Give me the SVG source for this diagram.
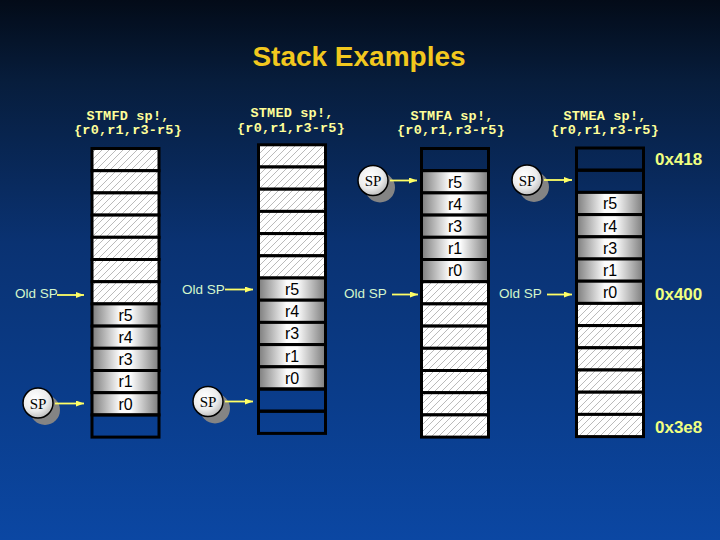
<svg xmlns="http://www.w3.org/2000/svg" width="720" height="540" viewBox="0 0 720 540">
<defs>
<linearGradient id="bg" x1="0" y1="0" x2="0" y2="1">
<stop offset="0" stop-color="#030b18"/>
<stop offset="0.15" stop-color="#071d3c"/>
<stop offset="0.45" stop-color="#0a3272"/>
<stop offset="0.75" stop-color="#0a3d8c"/>
<stop offset="1" stop-color="#0b47a3"/>
</linearGradient>
<linearGradient id="cellg" x1="0" y1="0" x2="1" y2="0">
<stop offset="0" stop-color="#7c7c7c"/>
<stop offset="0.42" stop-color="#fcfcfc"/>
<stop offset="0.58" stop-color="#fcfcfc"/>
<stop offset="1" stop-color="#7c7c7c"/>
</linearGradient>
<radialGradient id="spg" cx="0.4" cy="0.35" r="0.7">
<stop offset="0" stop-color="#ffffff"/>
<stop offset="0.6" stop-color="#ececec"/>
<stop offset="1" stop-color="#b8b8b8"/>
</radialGradient>
<pattern id="hatch" patternUnits="userSpaceOnUse" width="7" height="7">
<rect width="7" height="7" fill="#ffffff"/>
<path d="M0,7 L7,0 M-1,1 L1,-1 M6,8 L8,6" stroke="#9c9c9c" stroke-width="0.7"/>
</pattern>
<marker id="ah" markerWidth="8" markerHeight="6" refX="8" refY="3" orient="auto" markerUnits="userSpaceOnUse">
<path d="M0,0 L8,3 L0,6 Z" fill="#ffff66"/>
</marker>
<style>
.h{fill:url(#hatch);stroke:#000;stroke-width:3}
.g{fill:url(#cellg);stroke:#000;stroke-width:3}
.e{fill:none;stroke:#000;stroke-width:3}
.r{font-family:"Liberation Sans",Arial,sans-serif;font-size:16px;fill:#000;text-anchor:middle}
.hd{font-family:"Liberation Mono","Courier New",monospace;font-weight:bold;font-size:13.5px;fill:#ffff99;text-anchor:middle;letter-spacing:0.2px}
.old{font-family:"Liberation Sans",Arial,sans-serif;font-size:13.5px;fill:#d4f7cc}
.addr{font-family:"Liberation Sans",Arial,sans-serif;font-weight:bold;font-size:17px;fill:#f0ff80}
.sh{fill:#848484}
.sp{fill:url(#spg);stroke:#000;stroke-width:1.5}
.spt{font-family:"Liberation Serif","Times New Roman",serif;font-size:15px;fill:#000;text-anchor:middle}
.ar{stroke:#ffff66;stroke-width:1.8;fill:none;marker-end:url(#ah)}
</style>
</defs>
<rect width="720" height="540" fill="url(#bg)"/>
<text x="359" y="66" font-family="Liberation Sans,Arial,sans-serif" font-weight="bold" font-size="28" fill="#f2c81e" text-anchor="middle">Stack Examples</text>

<g id="headers">
<text class="hd" x="128" y="120">STMFD sp!,</text>
<text class="hd" x="128" y="134">{r0,r1,r3-r5}</text>
<text class="hd" x="292" y="117">STMED sp!,</text>
<text class="hd" x="291" y="131.5">{r0,r1,r3-r5}</text>
<text class="hd" x="452" y="120">STMFA sp!,</text>
<text class="hd" x="451" y="134">{r0,r1,r3-r5}</text>
<text class="hd" x="605" y="120">STMEA sp!,</text>
<text class="hd" x="605" y="134">{r0,r1,r3-r5}</text>
</g>

<g id="stack-stmfd">
<rect class="h" x="92" y="148.5" width="67" height="22.2"/>
<rect class="h" x="92" y="170.7" width="67" height="22.2"/>
<rect class="h" x="92" y="192.9" width="67" height="22.2"/>
<rect class="h" x="92" y="215.1" width="67" height="22.2"/>
<rect class="h" x="92" y="237.3" width="67" height="22.2"/>
<rect class="h" x="92" y="259.5" width="67" height="22.2"/>
<rect class="h" x="92" y="281.7" width="67" height="22.2"/>
<rect class="g" x="92" y="303.9" width="67" height="22.2"/>
<rect class="g" x="92" y="326.1" width="67" height="22.2"/>
<rect class="g" x="92" y="348.3" width="67" height="22.2"/>
<rect class="g" x="92" y="370.5" width="67" height="22.2"/>
<rect class="g" x="92" y="392.7" width="67" height="22.2"/>
<rect class="e" x="92" y="414.9" width="67" height="22.2"/>
<text class="r" x="125.5" y="320.8">r5</text>
<text class="r" x="125.5" y="343">r4</text>
<text class="r" x="125.5" y="365.2">r3</text>
<text class="r" x="125.5" y="387.4">r1</text>
<text class="r" x="125.5" y="409.6">r0</text>
</g>

<g id="stack-stmed">
<rect class="h" x="258.5" y="144.8" width="67" height="22.2"/>
<rect class="h" x="258.5" y="167" width="67" height="22.2"/>
<rect class="h" x="258.5" y="189.2" width="67" height="22.2"/>
<rect class="h" x="258.5" y="211.4" width="67" height="22.2"/>
<rect class="h" x="258.5" y="233.6" width="67" height="22.2"/>
<rect class="h" x="258.5" y="255.8" width="67" height="22.2"/>
<rect class="g" x="258.5" y="278" width="67" height="22.2"/>
<rect class="g" x="258.5" y="300.2" width="67" height="22.2"/>
<rect class="g" x="258.5" y="322.4" width="67" height="22.2"/>
<rect class="g" x="258.5" y="344.6" width="67" height="22.2"/>
<rect class="g" x="258.5" y="366.8" width="67" height="22.2"/>
<rect class="e" x="258.5" y="389" width="67" height="22.2"/>
<rect class="e" x="258.5" y="411.2" width="67" height="22.2"/>
<text class="r" x="292" y="294.9">r5</text>
<text class="r" x="292" y="317.1">r4</text>
<text class="r" x="292" y="339.3">r3</text>
<text class="r" x="292" y="361.5">r1</text>
<text class="r" x="292" y="383.7">r0</text>
</g>

<g id="stack-stmfa">
<rect class="e" x="421.5" y="148.5" width="67" height="22.2"/>
<rect class="g" x="421.5" y="170.7" width="67" height="22.2"/>
<rect class="g" x="421.5" y="192.9" width="67" height="22.2"/>
<rect class="g" x="421.5" y="215.1" width="67" height="22.2"/>
<rect class="g" x="421.5" y="237.3" width="67" height="22.2"/>
<rect class="g" x="421.5" y="259.5" width="67" height="22.2"/>
<rect class="h" x="421.5" y="281.7" width="67" height="22.2"/>
<rect class="h" x="421.5" y="303.9" width="67" height="22.2"/>
<rect class="h" x="421.5" y="326.1" width="67" height="22.2"/>
<rect class="h" x="421.5" y="348.3" width="67" height="22.2"/>
<rect class="h" x="421.5" y="370.5" width="67" height="22.2"/>
<rect class="h" x="421.5" y="392.7" width="67" height="22.2"/>
<rect class="h" x="421.5" y="414.9" width="67" height="22.2"/>
<text class="r" x="455" y="187.6">r5</text>
<text class="r" x="455" y="209.8">r4</text>
<text class="r" x="455" y="232">r3</text>
<text class="r" x="455" y="254.2">r1</text>
<text class="r" x="455" y="276.4">r0</text>
</g>

<g id="stack-stmea">
<rect class="e" x="576.5" y="148" width="67" height="22.2"/>
<rect class="e" x="576.5" y="170.2" width="67" height="22.2"/>
<rect class="g" x="576.5" y="192.4" width="67" height="22.2"/>
<rect class="g" x="576.5" y="214.6" width="67" height="22.2"/>
<rect class="g" x="576.5" y="236.8" width="67" height="22.2"/>
<rect class="g" x="576.5" y="259" width="67" height="22.2"/>
<rect class="g" x="576.5" y="281.2" width="67" height="22.2"/>
<rect class="h" x="576.5" y="303.4" width="67" height="22.2"/>
<rect class="h" x="576.5" y="325.6" width="67" height="22.2"/>
<rect class="h" x="576.5" y="347.8" width="67" height="22.2"/>
<rect class="h" x="576.5" y="370" width="67" height="22.2"/>
<rect class="h" x="576.5" y="392.2" width="67" height="22.2"/>
<rect class="h" x="576.5" y="414.4" width="67" height="22.2"/>
<text class="r" x="610" y="209.3">r5</text>
<text class="r" x="610" y="231.5">r4</text>
<text class="r" x="610" y="253.7">r3</text>
<text class="r" x="610" y="275.9">r1</text>
<text class="r" x="610" y="298.1">r0</text>
</g>

<g id="addresses">
<text class="addr" x="655" y="164.5">0x418</text>
<text class="addr" x="655" y="299.5">0x400</text>
<text class="addr" x="655" y="432.5">0x3e8</text>
</g>

<g id="sp-stmfd">
<circle class="sh" cx="45" cy="410" r="15"/>
<circle class="sp" cx="38" cy="403" r="15"/>
<text class="spt" x="38" y="408.5">SP</text>
</g>
<g id="sp-stmed">
<circle class="sh" cx="215" cy="408.5" r="15"/>
<circle class="sp" cx="208" cy="401.5" r="15"/>
<text class="spt" x="208" y="407">SP</text>
</g>
<g id="sp-stmfa">
<circle class="sh" cx="380" cy="187.5" r="15"/>
<circle class="sp" cx="373" cy="180.5" r="15"/>
<text class="spt" x="373" y="186">SP</text>
</g>
<g id="sp-stmea">
<circle class="sh" cx="534" cy="187" r="15"/>
<circle class="sp" cx="527" cy="180" r="15"/>
<text class="spt" x="527" y="185.5">SP</text>
</g>

<g id="oldsp-labels">
<text class="old" x="15" y="298">Old SP</text>
<text class="old" x="182" y="294">Old SP</text>
<text class="old" x="344" y="298">Old SP</text>
<text class="old" x="499" y="298">Old SP</text>
</g>

<g id="connectors">
<line class="ar" x1="55" y1="403.5" x2="84" y2="403.5"/>
<line class="ar" x1="57" y1="295" x2="84" y2="295"/>
<line class="ar" x1="225" y1="401.5" x2="253" y2="401.5"/>
<line class="ar" x1="225" y1="289.5" x2="253" y2="289.5"/>
<line class="ar" x1="390" y1="180.5" x2="417" y2="180.5"/>
<line class="ar" x1="392" y1="294.5" x2="418" y2="294.5"/>
<line class="ar" x1="544" y1="180" x2="572" y2="180"/>
<line class="ar" x1="547" y1="294.5" x2="572" y2="294.5"/>
</g>
</svg>
